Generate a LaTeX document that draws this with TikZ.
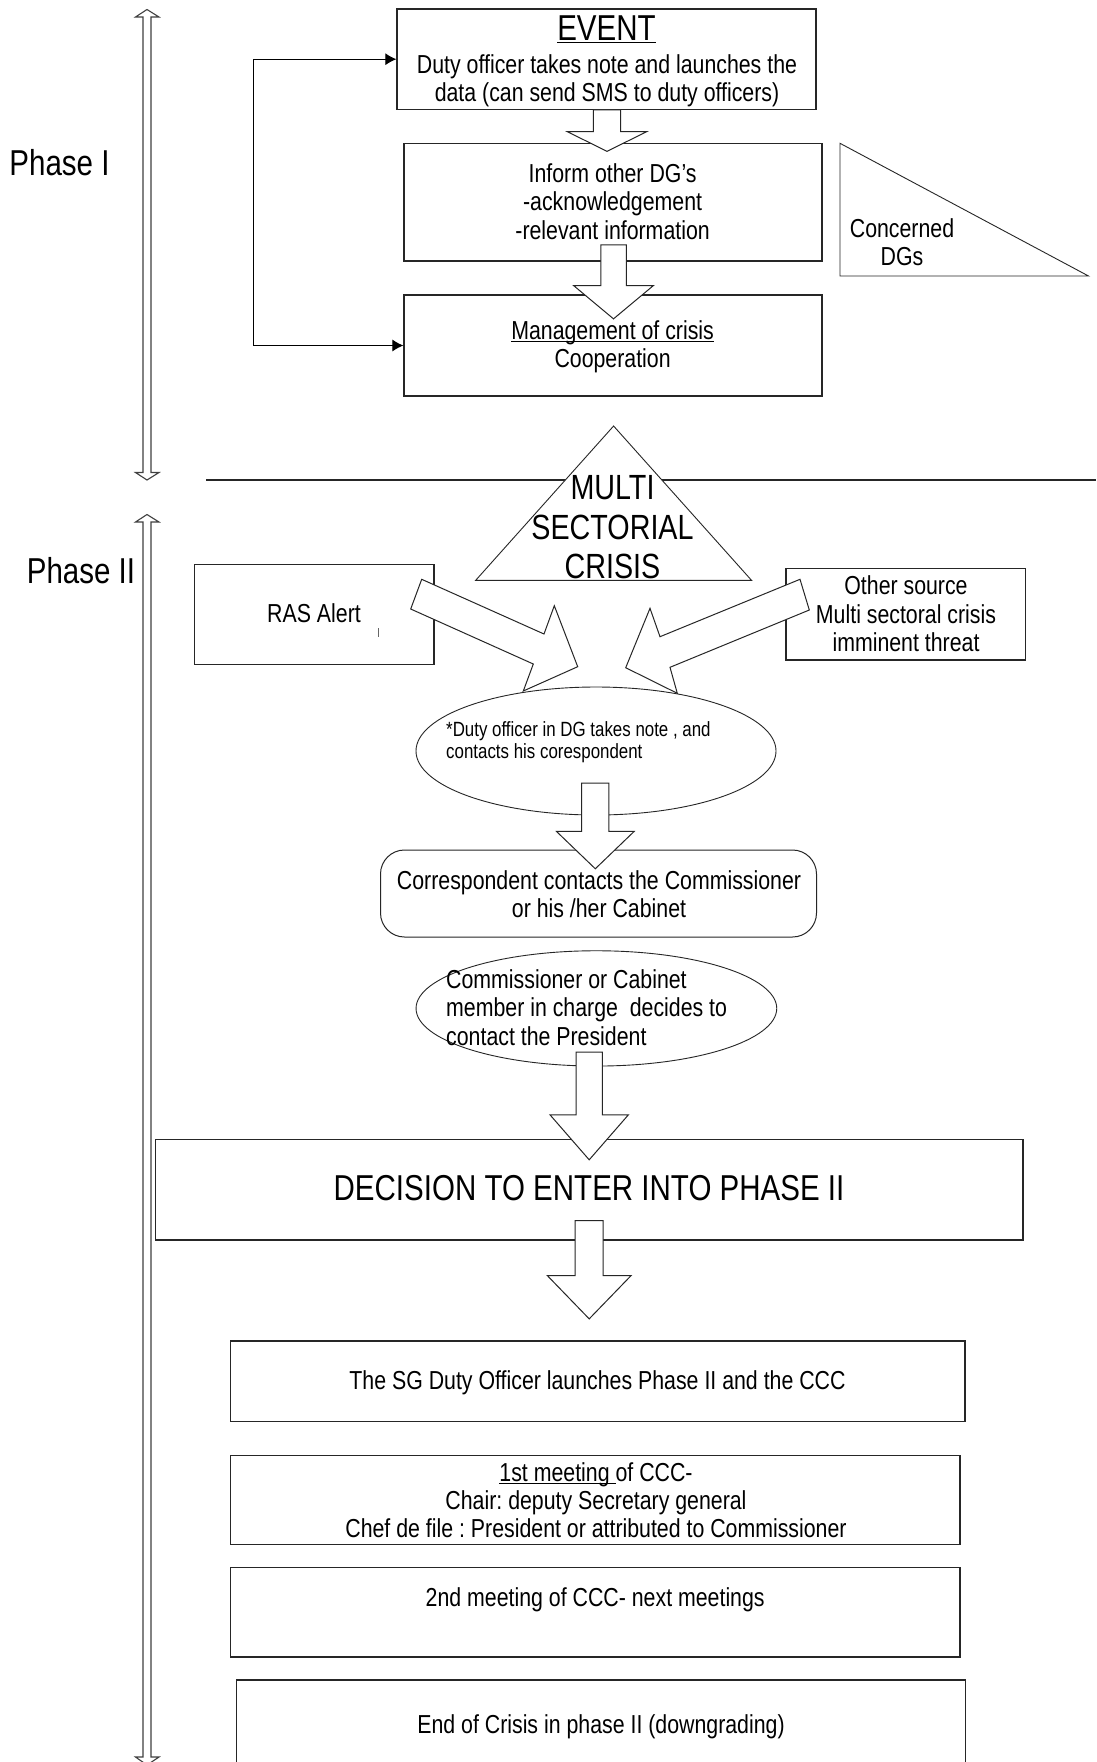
\documentclass[tikz,border=0pt]{standalone}
\usepackage{fontspec}
\setmainfont{Liberation Sans}[FakeStretch=0.82]
\usetikzlibrary{shapes.geometric,arrows.meta}
\frenchspacing
\newsavebox\ulbox
\newcommand\uln[1]{\sbox\ulbox{#1}\rlap{\rule[-2.6pt]{\wd\ulbox}{1.1pt}}\usebox\ulbox}
\newcommand\fB{\fontsize{26}{28.3}\selectfont}
\newcommand\fL{\fontsize{36}{40}\selectfont}
\newcommand\fM{\fontsize{35}{39.3}\selectfont}
\newcommand\fS{\fontsize{20.6}{22.6}\selectfont}
\newcommand\fE{\fontsize{26}{28.7}\selectfont}
% block arrow pointing down: #1 start point, #2 shaft half width, #3 head half width, #4 shaft length, #5 head length
\newcommand\blkdown[5]{\draw[blk] #1 ++(-#2,0) -- ++(0,#4) -- ++({#2-#3},0) -- ++(#3,#5) -- ++(#3,-#5) -- ++({#2-#3},0) -- ++(0,-#4) -- cycle;}
\tikzset{
  box/.style={draw=black!85, line width=1.2pt, inner sep=0pt},
  ell/.style={ellipse, draw=black!85, line width=0.9pt, inner sep=0pt},
  tri/.style={draw=black!85, line width=0.9pt, line join=miter},
  blk/.style={draw=black!85, fill=white, line width=1pt, line join=miter},
  phasearrow/.style={draw=black!75, fill=white, line width=1.1pt, line join=miter},
  txt/.style={inner sep=0pt, align=center, font=\fB},
  fb/.style={draw=black, line width=1pt, {Latex[length=11pt,width=12pt]}-{Latex[length=11pt,width=12pt]}},
}
\begin{document}
\begin{tikzpicture}[x=1pt,y=-1pt]
\clip (0,0) rectangle (1096,1762);
\fill[white] (0,0) rectangle (1096,1762);

% phase arrows
\draw[phasearrow] (147,9.5) -- (159,17) -- (151,17) -- (151,472.5) -- (159,472.5) -- (147,480) -- (135.5,472.5) -- (143,472.5) -- (143,17) -- (135.5,17) -- cycle;
\draw[phasearrow] (147,514.5) -- (159,522) -- (151,522) -- (151,1757) -- (159,1757) -- (147,1765) -- (135.5,1757) -- (143,1757) -- (143,522) -- (135.5,522) -- cycle;
\node[inner sep=0pt, font=\fL] (ph1) at (59.5,163) {Phase I};
\node[inner sep=0pt, font=\fL] (ph2) at (81,571) {Phase II};

% separator line
\draw[line width=1.2pt, black!85] (206,480) -- (1096,480);

% Phase I boxes
\node[box, minimum width=419pt, minimum height=100.3pt] (ev) at (606.5,59.2) {};
\node[box, minimum width=418pt, minimum height=117.5pt] (inf) at (613,202.2) {};
\node[box, minimum width=418pt, minimum height=101pt] (mgmt) at (613,345.5) {};
\draw[tri] (840,143.3) -- (840,276) -- (1088.5,276) -- cycle;
\draw[fb] (ev.west) -- ++(-142.7,0) |- (mgmt.west);

% Phase II shapes
\draw[tri, fill=white] (613.6,426) -- (751.5,580.3) -- (475.7,580.3) -- cycle;
\node[box, minimum width=239.5pt, minimum height=100pt] (ras) at (314.2,614.3) {};
\node[box, minimum width=239.5pt, minimum height=91.7pt] (oth) at (905.8,614.2) {};
\node[ell, minimum width=360pt, minimum height=128pt] (e1) at (596,751) {};
\node[box, rounded corners=24pt, line width=1pt, minimum width=436pt, minimum height=87pt] (corr) at (598.5,893.5) {};
\node[ell, minimum width=360.7pt, minimum height=115.3pt] (e2) at (596.4,1008.4) {};
\node[box, minimum width=867.5pt, minimum height=100.5pt] (dec) at (589.2,1189.7) {};
\node[box, minimum width=734.7pt, minimum height=80.7pt] (sg) at (597.7,1381.3) {};
\node[box, minimum width=729.7pt, minimum height=89pt] (m1) at (595.2,1500) {};
\node[box, minimum width=729.7pt, minimum height=89.3pt] (m2) at (595.2,1612.3) {};
\node[box, minimum width=729.1pt, minimum height=140pt] (endb) at (601.2,1750) {};
\draw[black!60, line width=0.8pt] (378.7,628) -- (378.7,637);

% block arrows
\blkdown{([xshift=0.5pt]ev.south)}{13.7}{39.7}{21.7}{19.7}
\blkdown{([xshift=0.5pt,yshift=16.7pt]inf.south)}{12.75}{39.9}{40.7}{33.3}
\blkdown{([xshift=-0.7pt,yshift=32.3pt]e1.south)}{13.65}{38.8}{48.3}{37.3}
\blkdown{([xshift=-7.2pt,yshift=14.3pt]e2.south)}{13.2}{39.2}{62.6}{45}
\blkdown{([yshift=20pt]dec.south)}{14}{41.9}{55}{43.3}
\draw[blk] (421.7,579.3) -- (544,634) -- (554.3,605.7) -- (577.7,666.7) -- (523.3,691) -- (533.3,664) -- (410.7,609) -- cycle;
\draw[blk] (800,579.3) -- (660,636.7) -- (650,608.3) -- (625.7,667.7) -- (677.3,693.3) -- (670,667.3) -- (809.3,610) -- cycle;

% texts
\node[inner sep=0pt, font=\fL, anchor=base] (evt) at (606.5,40.7) {\uln{EVENT}};
\node[txt] (evtx) at (607,80.5) {Duty officer takes note and launches the\\data (can send SMS to duty officers)};
\node[txt] (inft) at (612.6,201.7) {Inform other DG’s\\-acknowledgement\\-relevant information};
\node[txt] (mgmtt) at (612.6,347) {\uln{Management of crisis}\\Cooperation};
\node[txt] (cdg) at (902,242.5) {Concerned\\DGs};
\node[txt, font=\fM] (multi) at (612.5,527.2) {MULTI\\SECTORIAL\\CRISIS};
\node[txt] (rast) at (314,613.5) {RAS Alert};
\node[txt] (otht) at (906,613.8) {Other source\\Multi sectoral crisis\\imminent threat};
\node[txt, font=\fS, align=left, anchor=west] (e1t) at (446,742) {*Duty officer in DG takes note , and\\contacts his corespondent};
\node[txt] (corrt) at (599,894) {Correspondent contacts the Commissioner\\or his /her Cabinet};
\node[txt, font=\fE, align=left, anchor=west] (e2t) at (446,1007.4) {Commissioner or Cabinet\\member in charge\ \ decides to\\contact the President};
\node[txt, font=\fL] (dect) at (589,1188) {DECISION TO ENTER INTO PHASE II};
\node[txt] (sgt) at (597.5,1383) {The SG Duty Officer launches Phase II and the CCC};
\node[txt] (m1t) at (596,1500.3) {\uln{1st meeting\ }of CCC-\\Chair: deputy Secretary general\\Chef de file : President or attributed to Commissioner};
\node[txt] (m2t) at (595.2,1600) {2nd meeting of CCC- next meetings};
\node[txt] (endt) at (601,1726.5) {End of Crisis in phase II (downgrading)};
\end{tikzpicture}
\end{document}
